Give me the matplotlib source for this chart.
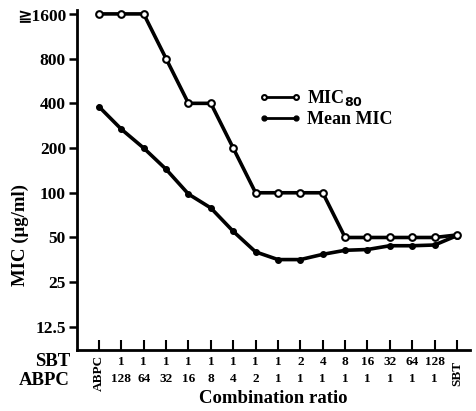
import matplotlib
matplotlib.use("Agg")
import matplotlib.pyplot as plt
import matplotlib.transforms as mtransforms

plt.rcParams['font.family'] = ['Liberation Serif', 'DejaVu Serif', 'DejaVu Sans', 'Noto Sans CJK JP']
plt.rcParams['font.weight'] = 'bold'

positions = list(range(17))
sbt_row = ["", "1", "1", "1", "1", "1", "1", "1", "1", "2", "4", "8", "16", "32", "64", "128", ""]
abpc_row = ["", "128", "64", "32", "16", "8", "4", "2", "1", "1", "1", "1", "1", "1", "1", "1", ""]
mic80 = [1600, 1600, 1600, 800, 400, 400, 200, 100, 100, 100, 100, 50, 50, 50, 50, 50, 52]
mean_mic = [380, 268, 200, 144, 98, 79, 55, 40, 35.5, 35.5, 38.5, 41, 41.5, 44, 44, 44.5, 51.5]
yticks = [12.5, 25, 50, 100, 200, 400, 800, 1600]
yticklabels = ["12.5", "25", "50", "100", "200", "400", "800", "≧1600"]

fig = plt.figure(figsize=(4.76, 4.11), dpi=100)
ax = fig.add_axes([77/476, 1 - 350/411, (470-77)/476, (350-10)/411])
ax.set_yscale('log', base=2)
ax.set_ylim(8.74, 1700)
ax.set_xlim(-0.98, 16.58)

ax.plot(positions, mean_mic, color='black', lw=2.6, marker='o', ms=4,
        mfc='black', mec='black', label='Mean MIC', zorder=2)
ax.plot(positions, mic80, color='black', lw=2.6, marker='o', ms=4.8,
        mfc='white', mec='black', mew=1.5, label='MIC$_{80}$', zorder=3)

for s in ['top', 'right']:
    ax.spines[s].set_visible(False)
for s in ['left', 'bottom']:
    ax.spines[s].set_linewidth(2)

ax.set_yticks(yticks)
ax.set_yticklabels(yticklabels, fontsize=12.5)
ax.yaxis.set_minor_locator(matplotlib.ticker.NullLocator())
ax.tick_params(axis='y', direction='out', length=6, width=1.8, pad=2)
ax.set_xticks(positions)
ax.set_xticklabels([])
ax.tick_params(axis='x', direction='in', length=7, width=1.5)

trans = mtransforms.blended_transform_factory(ax.transData, fig.transFigure)
for p, s, a in zip(positions, sbt_row, abpc_row):
    if s:
        ax.text(p, 1 - 362/411, s, transform=trans, ha='center', va='center', fontsize=9.5)
    if a:
        ax.text(p, 1 - 379/411, a, transform=trans, ha='center', va='center', fontsize=9.5)
ax.text(0, 1 - 373/411, "ABPC", transform=trans, ha='center', va='center', rotation=90, fontsize=9.5)
ax.text(16, 1 - 373/411, "SBT", transform=trans, ha='center', va='center', rotation=90, fontsize=9.5)

fig.text(70/476, 1 - 361/411, "SBT", ha='right', va='center', fontsize=13.5)
fig.text(70/476, 1 - 380/411, "ABPC", ha='right', va='center', fontsize=13.5)
fig.text(273/476, 1 - 398/411, "Combination ratio", ha='center', va='center', fontsize=13.5)
fig.text(20/476, 1 - 235/411, "MIC (μg/ml)", ha='center', va='center', rotation=90, fontsize=13.5)

handles, labels = ax.get_legend_handles_labels()
leg = ax.legend(handles[::-1], labels[::-1], loc='upper left',
                bbox_to_anchor=(242/476, 1 - 72/411), bbox_transform=fig.transFigure,
                frameon=False, numpoints=2, handlelength=2.4, handletextpad=0.3,
                labelspacing=0.15, fontsize=13)
for lh in leg.get_lines():
    lh.set_linewidth(2)
    lh.set_markersize(3.5)

fig.savefig("out.png", dpi=100)
